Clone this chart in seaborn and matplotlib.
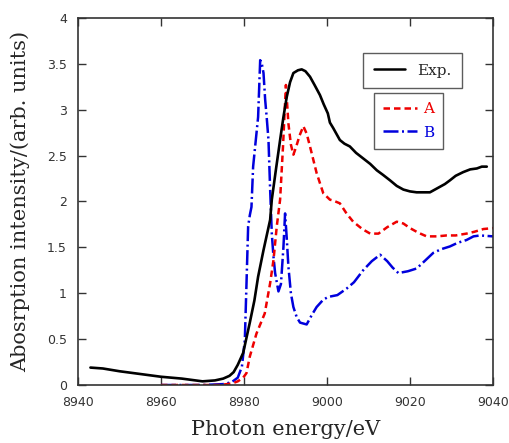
import matplotlib
matplotlib.use('Agg')
import matplotlib.pyplot as plt
import matplotlib.lines as mlines
import seaborn as sns
import pandas as pd

# --- Data ---
exp_energy = [8943, 8946, 8950, 8955, 8960, 8965, 8970, 8973, 8975, 8976.5,
              8977.5, 8978.5, 8979.8, 8981.4, 8982.5, 8983.4, 8984.7, 8986.3, 8986.7, 8987.7,
              8988.7, 8989.5, 8990.3, 8991.1, 8991.9, 8993.0, 8993.9, 8994.8, 8995.9, 8997.0,
              8998.3, 8999.2, 9000.2, 9000.7, 9001.5, 9003.1, 9004.2, 9005.5, 9007.0, 9008.7,
              9010.4, 9012.0, 9013.5, 9015.2, 9016.8, 9018.4, 9020.0, 9021.6, 9023.2, 9024.8,
              9026.0, 9027.2, 9028.4, 9029.6, 9031.0, 9032.8, 9034.5, 9036.1, 9037.3, 9038.5]
exp_int = [0.19, 0.18, 0.15, 0.12, 0.09, 0.07, 0.04, 0.05, 0.07, 0.10,
           0.14, 0.22, 0.35, 0.68, 0.92, 1.18, 1.47, 1.80, 2.02, 2.35,
           2.67, 2.92, 3.14, 3.30, 3.40, 3.43, 3.44, 3.42, 3.36, 3.27,
           3.16, 3.06, 2.96, 2.86, 2.80, 2.67, 2.63, 2.60, 2.53, 2.47,
           2.41, 2.34, 2.29, 2.23, 2.17, 2.13, 2.11, 2.10, 2.10, 2.10,
           2.13, 2.16, 2.19, 2.23, 2.28, 2.32, 2.35, 2.36, 2.38, 2.38]

a_energy = [8960, 8965, 8970, 8974, 8976, 8977.3, 8978.5, 8979.8, 8980.6, 8981.4,
            8983.0, 8985.0, 8986.3, 8987.1, 8987.9, 8988.7, 8989.4, 8990.1, 8990.7, 8991.3,
            8991.9, 8992.6, 8993.4, 8994.3, 8995.1, 8995.9, 8997.5, 8999.1, 9000.7, 9001.5,
            9003.1, 9004.7, 9006.3, 9008.5, 9010.4, 9012.4, 9014.5, 9016.8, 9018.4, 9020.0,
            9022.0, 9024.0, 9026.5, 9028.8, 9031.0, 9033.6, 9035.5, 9037.7, 9040.0]
a_int = [0.0, 0.0, 0.0, 0.0, 0.01, 0.02, 0.04, 0.08, 0.13, 0.31,
         0.56, 0.78, 1.11, 1.36, 1.73, 2.02, 2.60, 3.27, 2.85, 2.62,
         2.51, 2.60, 2.72, 2.82, 2.74, 2.60, 2.31, 2.09, 2.02, 2.01,
         1.98, 1.87, 1.78, 1.70, 1.65, 1.65, 1.72, 1.78, 1.76, 1.71,
         1.66, 1.62, 1.62, 1.63, 1.63, 1.65, 1.67, 1.70, 1.71]

b_energy = [8960, 8965, 8970, 8975, 8977, 8978.5, 8979.5, 8980.2, 8980.6, 8981.0,
            8981.4, 8981.8, 8982.2, 8982.8, 8983.4, 8983.9, 8984.3, 8984.7, 8985.1, 8985.5,
            8985.9, 8986.3, 8986.7, 8987.1, 8987.5, 8988.3, 8988.9, 8989.5, 8989.9, 8990.3,
            8990.7, 8991.3, 8991.9, 8992.7, 8993.5, 8995.1, 8996.3, 8997.5, 8999.1, 9000.3,
            9002.5, 9004.7, 9006.5, 9008.7, 9010.8, 9012.8, 9014.5, 9015.8, 9017.2, 9019.5,
            9021.6, 9023.5, 9025.6, 9027.5, 9029.6, 9031.5, 9033.6, 9035.3, 9036.9, 9040.0]
b_int = [0.0, 0.0, 0.0, 0.01, 0.03, 0.08, 0.20, 0.49, 1.10, 1.73,
         1.85, 1.94, 2.38, 2.65, 2.92, 3.54, 3.50, 3.40, 3.11, 2.90,
         2.67, 2.13, 1.65, 1.40, 1.22, 1.02, 1.10, 1.50, 1.87, 1.60,
         1.29, 1.00, 0.85, 0.74, 0.68, 0.66, 0.76, 0.85, 0.93, 0.96,
         0.98, 1.05, 1.12, 1.25, 1.35, 1.42, 1.35, 1.28, 1.22, 1.24,
         1.27, 1.35, 1.44, 1.48, 1.51, 1.55, 1.58, 1.62, 1.63, 1.62]

x_ticks = [8940, 8960, 8980, 9000, 9020, 9040]
y_ticks = [0, 0.5, 1, 1.5, 2, 2.5, 3, 3.5, 4]
y_tick_labels = ['0', '0.5', '1', '1.5', '2', '2.5', '3', '3.5', '4']

sns.set_style('ticks')
plt.rcParams['font.family'] = ['DejaVu Serif']

fig = plt.figure(figsize=(5.09, 4.43), dpi=100)
ax = fig.add_axes([0.1532, 0.1309, 0.8154, 0.8285])

exp_df = pd.DataFrame({'energy': exp_energy, 'intensity': exp_int})
a_df = pd.DataFrame({'energy': a_energy, 'intensity': a_int})
b_df = pd.DataFrame({'energy': b_energy, 'intensity': b_int})

b_style = (0, (6, 1.4, 0.8, 1.4))
a_style = (0, (2.6, 1.6))

sns.lineplot(data=b_df, x='energy', y='intensity', ax=ax, color='#0000dd',
             linewidth=1.8, linestyle=b_style)
sns.lineplot(data=a_df, x='energy', y='intensity', ax=ax, color='#ee0000',
             linewidth=1.8, linestyle=a_style)
sns.lineplot(data=exp_df, x='energy', y='intensity', ax=ax, color='black',
             linewidth=1.9)

ax.set_xlim(8940, 9040)
ax.set_ylim(0, 4)
ax.set_xticks(x_ticks)
ax.set_yticks(y_ticks)
ax.set_yticklabels(y_tick_labels)
ax.tick_params(direction='in', length=6, width=1, top=True, right=True,
               labelsize=9, colors='#333333')
ax.tick_params(axis='x', pad=8)
ax.tick_params(axis='y', pad=8)
for lbl in ax.get_xticklabels() + ax.get_yticklabels():
    lbl.set_family('DejaVu Sans')
for s in ax.spines.values():
    s.set_linewidth(1.2)
    s.set_color('#333333')

ax.set_xlabel('Photon energy/eV', fontsize=15, labelpad=8)
ax.set_ylabel('Abosrption intensity/(arb. units)', fontsize=15, labelpad=12)

# two separate legend boxes as in the reference
h_exp = mlines.Line2D([], [], color='black', linewidth=1.8)
leg1 = ax.legend([h_exp], ['Exp.'], loc='upper right', bbox_to_anchor=(0.925, 0.905),
                 borderaxespad=0, fontsize=11, frameon=True, fancybox=False,
                 edgecolor='#333333', handlelength=2.0, borderpad=0.7)
leg1.get_frame().set_linewidth(1.0)
ax.add_artist(leg1)

h_a = mlines.Line2D([], [], color='#ee0000', linewidth=1.8, linestyle=a_style)
h_b = mlines.Line2D([], [], color='#0000dd', linewidth=1.8, linestyle=b_style)
leg2 = ax.legend([h_a, h_b], ['A', 'B'], loc='upper right', bbox_to_anchor=(0.88, 0.795),
                 borderaxespad=0, fontsize=11, frameon=True, fancybox=False,
                 edgecolor='#333333', handlelength=2.2, labelcolor='linecolor',
                 borderpad=0.6, labelspacing=0.6, handletextpad=0.4)
leg2.get_frame().set_linewidth(1.0)

fig.savefig('out.png', dpi=100)
